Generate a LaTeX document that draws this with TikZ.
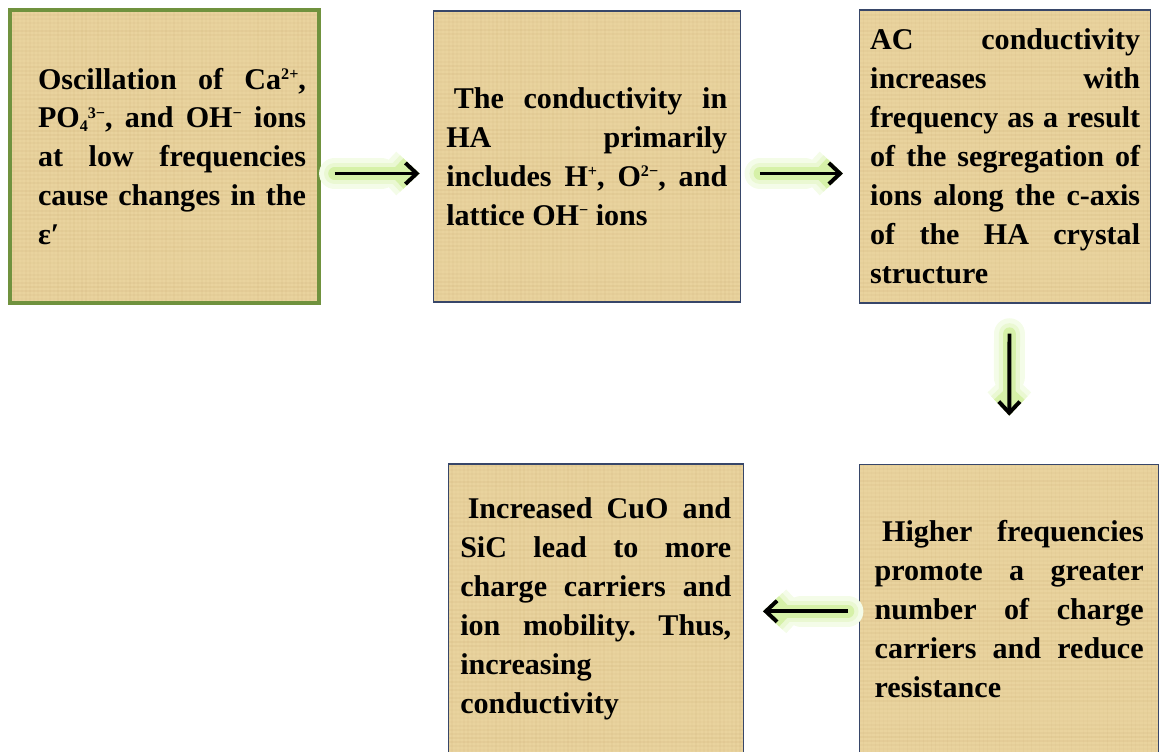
\documentclass[tikz,border=0pt]{standalone}
\usepackage{fontspec}
\setmainfont{Liberation Serif}
\usetikzlibrary{arrows.meta,positioning}

\definecolor{papyrus}{RGB}{233,211,158}
\definecolor{fibre}{RGB}{185,150,90}
\definecolor{leafgreen}{RGB}{112,146,62}
\definecolor{navyline}{RGB}{55,70,105}
\definecolor{glowfaint}{RGB}{244,252,232}
\definecolor{glowout}{RGB}{234,248,210}
\definecolor{glowin}{RGB}{214,241,168}

\newcommand{\sups}[1]{\raisebox{0.72ex}{\fontsize{11.5}{11.5}\selectfont #1}}
\newcommand{\subs}[1]{\raisebox{-0.25ex}{\fontsize{11.5}{11.5}\selectfont #1}}

\begin{document}
\begin{tikzpicture}[>={Straight Barb[length=8pt,width=15pt]},
    papyrus texture/.style={path picture={
      \pgfmathsetseed{7}
      \foreach \k in {1,...,78}{
        \pgfmathsetmacro\op{0.02+0.06*rnd}
        \draw[fibre,opacity=\op,line width=1.1pt]
          ([xshift=\k*1mm]path picture bounding box.south west) --
          ([xshift=\k*1mm]path picture bounding box.north west);
        \pgfmathsetmacro\op{0.03+0.08*rnd}
        \draw[fibre,opacity=\op,line width=1.3pt]
          ([yshift=\k*1mm]path picture bounding box.south west) --
          ([yshift=\k*1mm]path picture bounding box.south east);
      }}},
    box/.style={rectangle,draw=navyline,line width=1pt,fill=papyrus,papyrus texture,
      inner sep=0pt,align=justify,font=\fontsize{21.4}{27.7}\selectfont\bfseries\frenchspacing},
    first box/.style={box,draw=leafgreen,line width=2.2pt},
    flow/.style={->,line width=2.8pt,
      preaction={draw=glowfaint,line width=22pt,line cap=round,line join=round},
      preaction={draw=glowout,line width=15pt,line cap=round,line join=round},
      preaction={draw=glowin,line width=9pt,line cap=round,line join=round}}]

  \useasboundingbox (0,0) rectangle (29.025,-18.8);

  \node[first box,minimum width=7.725cm,minimum height=7.325cm,text width=7.075cm] (osc) at (4.1125,-3.9125)
    {\leftskip=0.375cm
     Oscillation of Ca\sups{2+},\linebreak
     PO\subs{4}\sups{3−}, and OH\sups{−} ions\linebreak
     at low frequencies\linebreak
     cause changes in the\linebreak
     ε′\par};
  \node[box,minimum width=7.675cm,minimum height=7.275cm,text width=7.025cm] (cond) [right=2.8cm of osc]
    {\hspace{0.25em}The conductivity in\linebreak
     HA primarily\linebreak
     includes H\sups{+}, O\sups{2−}, and\linebreak
     lattice OH\sups{−} ions};
  \node[box,minimum width=7.275cm,minimum height=7.325cm,text width=6.75cm] (acc) [right=2.95cm of cond]
    {AC conductivity\linebreak
     increases with\linebreak
     frequency as a result\linebreak
     of the segregation of\linebreak
     ions along the c-axis\linebreak
     of the HA crystal\linebreak
     structure};
  \node[box,minimum width=7.475cm,minimum height=7.225cm,text width=6.725cm] (high) [below=4cm of acc,xshift=0.1cm]
    {\hspace{0.25em}Higher frequencies\linebreak
     promote a greater\linebreak
     number of charge\linebreak
     carriers and reduce\linebreak
     resistance};
  \node[box,minimum width=7.375cm,minimum height=7.25cm,text width=6.775cm] (cuo) [left=2.875cm of high]
    {\hspace{0.25em}Increased CuO and\linebreak
     SiC lead to more\linebreak
     charge carriers and\linebreak
     ion mobility. Thus,\linebreak
     increasing\newline
     conductivity};

  % arrows between the boxes
  \draw[flow,shorten <=0.35cm,shorten >=0.325cm] ([yshift=-0.425cm]osc.east) -- ([yshift=-0.425cm]cond.west);
  \draw[flow,shorten <=0.475cm,shorten >=0.4cm] ([yshift=-0.425cm]cond.east) -- ([yshift=-0.425cm]acc.west);
  \draw[flow,shorten <=0.75cm,shorten >=1.2cm] ([xshift=0.11cm]acc.south) -- (high.north);
  \draw[flow,shorten <=0.275cm,shorten >=0.475cm] ([yshift=-0.06cm]high.west) -- ([yshift=-0.06cm]cuo.east);
\end{tikzpicture}
\end{document}
